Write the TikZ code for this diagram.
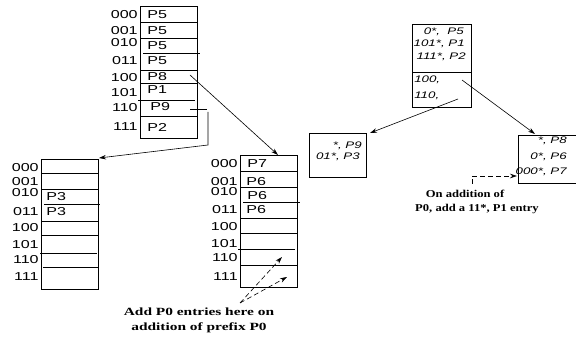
\documentclass[tikz,border=0pt]{standalone}
\usepackage{fontspec}
\setmainfont{Liberation Serif}[FakeStretch=1.4]
\setsansfont{Liberation Sans}[FakeStretch=1.4]
\newfontfamily\notefont{Liberation Serif}[FakeStretch=1.2]
\usetikzlibrary{arrows.meta}

\begin{document}
\begin{tikzpicture}[
        x = 1pt, y = -1pt, % pixel grid, y going down
        > = {Stealth[length=7pt, width=4.5pt]}, % arrow head style
        line width = 0.6pt % line style
    ]

    \tikzstyle{every node}=[
    inner sep = 0pt,
    font = \sffamily\fontsize{11.5}{12}\selectfont
    ]
    \tikzstyle{idx}=[anchor = east]
    \tikzstyle{ent}=[anchor = west]
    \tikzstyle{trie}=[anchor = east, font = \sffamily\itshape\fontsize{9.5}{12}\selectfont]
    \tikzstyle{note}=[font = \rmfamily\bfseries\fontsize{11}{15}\selectfont, align = center]
    \tikzstyle{snote}=[font = \notefont\bfseries\fontsize{10.5}{15}\selectfont]
    \tikzstyle{hint}=[->, dash pattern = on 5pt off 3pt]

    \useasboundingbox (0,0) rectangle (576,339);

    % top table
    \draw (140,6) rectangle (197,138);
    \foreach \y/\a/\b in {22/140/197, 38/140/197, 53/143/200, 70/140/197,
                          83/140/197, 100/138/195, 116/140/197}
        \draw (\a,\y) -- (\b,\y);
    \foreach \t/\y in {000/15, 001/31, 010/43, 011/61, 100/78, 101/93, 110/108, 111/127}
        \node[idx] (top\t) at (138,\y) {\t};
    \node[ent] (t0) at (147,15) {P5};
    \node[ent] (t1) at (147,31) {P5};
    \node[ent] (t2) at (147,46) {P5};
    \node[ent] (t3) at (147,61) {P5};
    \node[ent] (t4) at (147,77) {P8};
    \node[ent] (t5) at (147,90) {P1};
    \node[ent] (t6) at (150,107) {P9};
    \node[ent] (t7) at (147,127) {P2};

    % left lower table
    \draw (41,159) rectangle (98,289);
    \foreach \y/\a/\b in {173/41/98, 189/41/98, 204/44/100, 221/41/98,
                          235/41/98, 253/40/97, 267/43/98}
        \draw (\a,\y) -- (\b,\y);
    \foreach \t/\y in {000/168, 001/182, 010/193, 011/212, 100/228, 101/245, 110/260, 111/277}
        \node[idx] (lft\t) at (39,\y) {\t};
    \node[ent] (l2) at (46,197) {P3};
    \node[ent] (l3) at (46,212) {P3};

    % middle lower table
    \draw (240,155) rectangle (297,287);
    \foreach \y/\a/\b in {171/240/297, 187/240/297, 202/243/300, 218/240/297,
                          233/240/297, 249/238/295, 265/240/297}
        \draw (\a,\y) -- (\b,\y);
    \foreach \t/\y in {000/164, 001/182, 010/192, 011/210, 100/227, 101/244, 110/258, 111/277}
        \node[idx] (mid\t) at (238,\y) {\t};
    \node[ent] (m0) at (247,164) {P7};
    \node[ent] (m1) at (246,182) {P6};
    \node[ent] (m2) at (247,196) {P6};
    \node[ent] (m3) at (246,210) {P6};

    % pointers of the tables
    \coordinate (p8) at (190,75);
    \coordinate (midin) at (278,155);
    \draw[->] (p8) -- (midin);

    \coordinate (p9a) at (190,109);
    \coordinate (p9b) at (207,109);
    \coordinate (p9c) at (208,112);
    \coordinate (lftin) at (99,158);
    \draw (p9a) -- (p9b);
    \draw[->] (p9c) -- (208,145) -- (lftin);

    \node[note] (add) at (199,320) {Add P0 entries here on\\addition of prefix P0};
    \coordinate (addtip) at (240,303);
    \coordinate (r110) at (282,257);
    \coordinate (r111) at (287,277);
    \draw[hint] (addtip) -- (r110);
    \draw[hint] (addtip) -- (r111);

    % trie nodes
    \draw[thick] (412,24) rectangle (471,107);
    \draw[thick] (412,72) -- (471,72);
    \node[trie] (root0) at (464,32) {0*,\ \ P5};
    \node[trie] (root1) at (465,44) {101*, P1};
    \node[trie] (root2) at (466,57) {111*, P2};
    \node[trie, anchor = west] (root3) at (414,80) {100,};
    \node[trie, anchor = west] (root4) at (414,96) {110,};

    \draw[thick] (309,133) rectangle (366,177);
    \node[trie] (kid90) at (362,146) {*, P9};
    \node[trie] (kid91) at (360,157) {01*, P3};

    \draw[thick] (518,135) rectangle (578,183);
    \node[trie] (kid80) at (567,141) {*, P8};
    \node[trie] (kid81) at (567,157) {0*, P6};
    \node[trie] (kid82) at (567,172) {000*, P7};

    \coordinate (r100) at (462,80);
    \coordinate (r110b) at (458,99);
    \draw[->] (r100) -- (535,134);
    \draw[->] (r110b) -- (370,133);

    \node[snote] (on1) at (465,194) {On addition of};
    \node[snote] (on2) at (477,209) {P0, add a 11*, P1 entry};
    \coordinate (onb) at (472,184);
    \draw[hint] (onb) -- (472,176) -- (517,176);

\end{tikzpicture}
\end{document}
